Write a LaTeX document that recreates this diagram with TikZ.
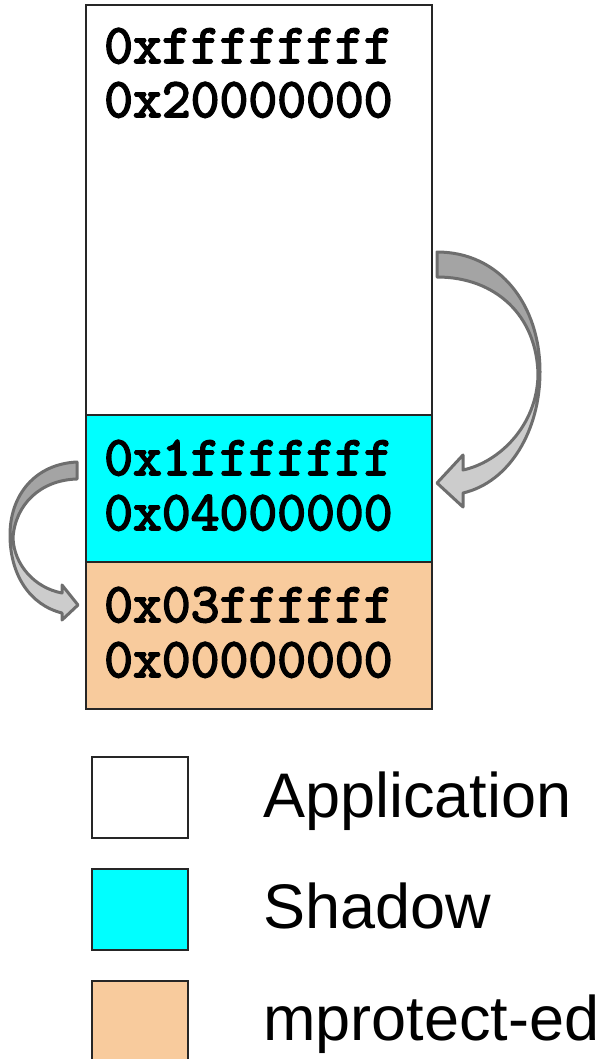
\documentclass[tikz,border=0pt]{standalone}
\usepackage{fontspec}
\setsansfont{Liberation Sans}
\newfontfamily\addrfont[FakeBold=3]{Latin Modern Mono}
\definecolor{shadowcol}{RGB}{0,255,255}
\definecolor{mprotcol}{RGB}{248,203,157}
\definecolor{arrowline}{RGB}{110,110,110}
\definecolor{arrowdark}{RGB}{164,164,164}
\definecolor{arrowlight}{RGB}{204,204,204}
\tikzset{
  region/.style={draw=black!85, line width=1.5pt, inner sep=0pt, outer sep=0pt,
    minimum width=346pt},
  addr/.style={anchor=base west, inner sep=0pt,
    font=\addrfont\fontsize{56}{56}\selectfont},
  keybox/.style={draw=black!85, line width=2pt, inner sep=0pt, outer sep=0pt,
    minimum width=96pt, minimum height=81pt, anchor=north west},
  keytext/.style={anchor=base west, inner sep=0pt,
    font=\sffamily\fontsize{63}{70}\selectfont},
  blockarrow/.style={draw=arrowline, line width=3pt, line join=round},
}
\begin{document}
\begin{tikzpicture}[x=1pt,y=-1pt]
\useasboundingbox (0,0) rectangle (603,1059);

% memory regions
\node[region, fill=white, minimum height=410pt, anchor=north west] (app) at (86,5) {};
\node[region, fill=shadowcol, minimum height=147pt, anchor=north west] (shadow) at (86,415) {};
\node[region, fill=mprotcol, minimum height=147pt, anchor=north west] (mprot) at (86,562) {};

% address ranges
\node[addr] (apphi) at (104,63) {0xffffffff};
\node[addr] (applo) at (104,117) {0x20000000};
\node[addr] (shhi) at (104,475) {0x1fffffff};
\node[addr] (shlo) at (104,530) {0x04000000};
\node[addr] (mphi) at (104,622) {0x03ffffff};
\node[addr] (mplo) at (104,677) {0x00000000};

% curved arrow: application -> shadow
\fill[arrowlight] (540,372) .. controls (540,430) and (510,482) .. (463,493)
  -- (463,507) -- (437,483) -- (463,455) -- (463,470)
  .. controls (500,462) and (537,425) .. (538,375) -- cycle;
\fill[arrowdark] (437,252) .. controls (500,252) and (540,305) .. (540,372)
  -- (538,375) .. controls (537,315) and (495,277) .. (437,277) -- cycle;
\draw[blockarrow] (437,252) .. controls (500,252) and (540,305) .. (540,372)
  .. controls (540,430) and (510,482) .. (463,493)
  -- (463,507) -- (437,483) -- (463,455) -- (463,470)
  .. controls (500,462) and (537,425) .. (538,375)
  .. controls (537,315) and (495,277) .. (437,277) -- cycle;

% curved arrow: shadow -> mprotect-ed
\fill[arrowlight] (10,535) .. controls (10,575) and (30,605) .. (62,613)
  -- (62,620) -- (78,605) -- (62,585) -- (62,593)
  .. controls (35,588) and (14,565) .. (13,538) -- cycle;
\fill[arrowdark] (77,462) .. controls (35,464) and (10,495) .. (10,535)
  -- (13,538) .. controls (15,505) and (40,480) .. (77,479) -- cycle;
\draw[blockarrow] (77,462) .. controls (35,464) and (10,495) .. (10,535)
  .. controls (10,575) and (30,605) .. (62,613)
  -- (62,620) -- (78,605) -- (62,585) -- (62,593)
  .. controls (35,588) and (14,565) .. (13,538)
  .. controls (15,505) and (40,480) .. (77,479) -- cycle;

% legend
\node[keybox, fill=white] (keyapp) at (92,757) {};
\node[keybox, fill=shadowcol] (keysh) at (92,869) {};
\node[keybox, fill=mprotcol, minimum height=90pt] (keymp) at (92,981) {};
\node[keytext] (lblapp) at (263,817) {Application};
\node[keytext] (lblsh) at (263,928) {Shadow};
\node[keytext] (lblmp) at (263,1040) {mprotect-ed};
\end{tikzpicture}
\end{document}
